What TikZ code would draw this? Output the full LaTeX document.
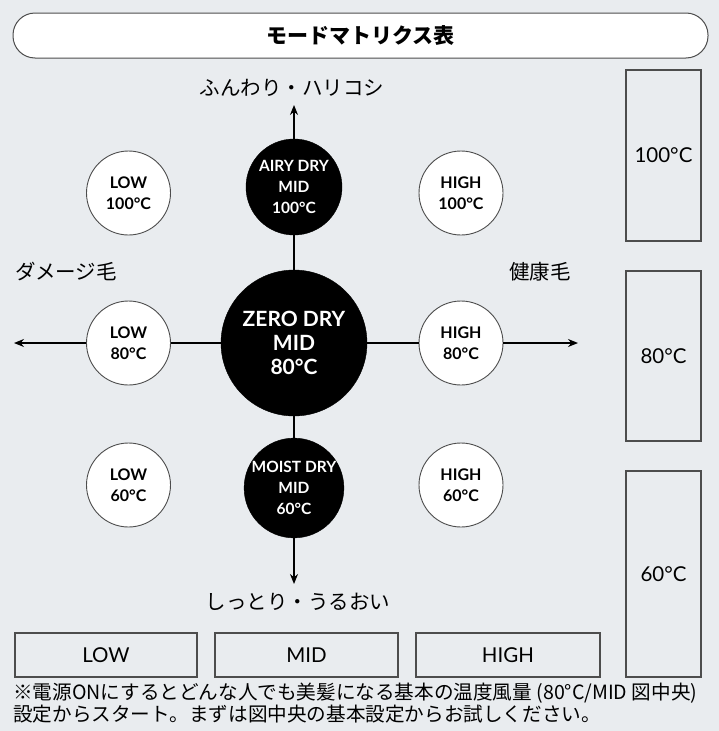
\documentclass[tikz,border=0pt]{standalone}
\usepackage{fontspec}
\setmainfont{Lato}
\newfontfamily\jpfont{Noto Sans CJK JP}
\usepackage{tikz}
\usetikzlibrary{positioning}
\usetikzlibrary{arrows.meta}
\usepackage{xcolor}
\definecolor{bggray}{HTML}{E9ECEF}
\definecolor{linegray}{HTML}{4D4D4D}

\begin{document}
\begin{tikzpicture}[x=1pt, y=-1pt,
    modew/.style={draw=linegray, line width=0.9pt, circle, fill=white, inner sep=0pt, minimum size=84pt, align=center, font=\bfseries\fontsize{16}{21.5}\selectfont},
    modeb/.style={draw=black, circle, fill=black, text=white, inner sep=0pt, minimum size=96pt, align=center, font=\bfseries\fontsize{15.5}{21}\selectfont},
    levelbox/.style={draw=linegray, line width=1.2pt, rectangle, inner sep=0pt, font=\fontsize{20.5}{24}\selectfont},
    axislbl/.style={font=\jpfont\fontsize{20.5}{24}\selectfont},
    axis/.style={line width=1.3pt, black},
    tip/.style={-{Stealth[length=10pt, width=8pt]}}]
    % Background
    \fill[bggray] (0,0) rectangle (719,731);
    \useasboundingbox (0,0) rectangle (719,731);

    % Title
    \node (title) [draw=linegray, line width=1pt, fill=white, rounded corners=22pt, minimum width=695pt, minimum height=45pt] at (360.5,35.5) {\jpfont\bfseries\fontsize{21}{24}\selectfont モードマトリクス表};

    % Axis ends
    \coordinate (uptip) at (294,105);
    \coordinate (downtip) at (294,584);
    \coordinate (lefttip) at (14,343);
    \coordinate (righttip) at (578,343);

    % Mode circles
    \node (zero) [modeb, minimum size=146pt, font=\bfseries\fontsize{21}{24}\selectfont] at (294,343) {ZERO DRY\\MID\\80°C};
    \node (airy) [modeb] at (294,187) {AIRY DRY\\MID\\100°C};
    \node (moist) [modeb] at (294,488) {MOIST DRY\\MID\\60°C};
    \node (low100) [modew] at (128.5,193) {LOW\\100°C};
    \node (high100) [modew] at (461,193) {HIGH\\100°C};
    \node (low80) [modew] at (128.5,343) {LOW\\80°C};
    \node (high80) [modew] at (461,343) {HIGH\\80°C};
    \node (low60) [modew] at (128.5,485) {LOW\\60°C};
    \node (high60) [modew] at (461,485) {HIGH\\60°C};

    % Axes
    \draw[axis, tip] (airy) -- (uptip);
    \draw[axis] (airy) -- (zero);
    \draw[axis] (zero) -- (moist);
    \draw[axis, tip] (moist) -- (downtip);
    \draw[axis, tip] (low80) -- (lefttip);
    \draw[axis] (low80) -- (zero);
    \draw[axis] (zero) -- (high80);
    \draw[axis, tip] (high80) -- (righttip);

    % Axis labels
    \node (soft) [axislbl, above=5pt of uptip, xshift=-2pt] {ふんわり・ハリコシ};
    \node (moistlbl) [axislbl, below=6pt of downtip, xshift=4pt] {しっとり・うるおい};
    \node (damage) [axislbl] at (66,272) {ダメージ毛};
    \node (healthy) [axislbl] at (540,272) {健康毛};

    % Temperature boxes
    \node (t100) [levelbox, minimum width=75pt, minimum height=171pt] at (663.5,155.5) {100°C};
    \node (t80) [levelbox, minimum width=75pt, minimum height=170pt] at (663.5,356) {80°C};
    \node (t60) [levelbox, minimum width=75pt, minimum height=206pt] at (663.5,574) {60°C};

    % Airflow boxes
    \node (flow1) [levelbox, minimum width=182pt, minimum height=44pt] at (106,655) {LOW};
    \node (flow2) [levelbox, minimum width=183pt, minimum height=44pt] at (306.5,655) {MID};
    \node (flow3) [levelbox, minimum width=184pt, minimum height=44pt] at (508,655) {HIGH};

    % Note
    \node (note) [anchor=north west, align=left, inner sep=0pt, font=\jpfont\fontsize{19.6}{22}\selectfont] at (13,683) {※電源ONにするとどんな人でも美髪になる基本の温度風量 (80°C/MID 図中央)\\設定からスタート。まずは図中央の基本設定からお試しください。};
\end{tikzpicture}
\end{document}
